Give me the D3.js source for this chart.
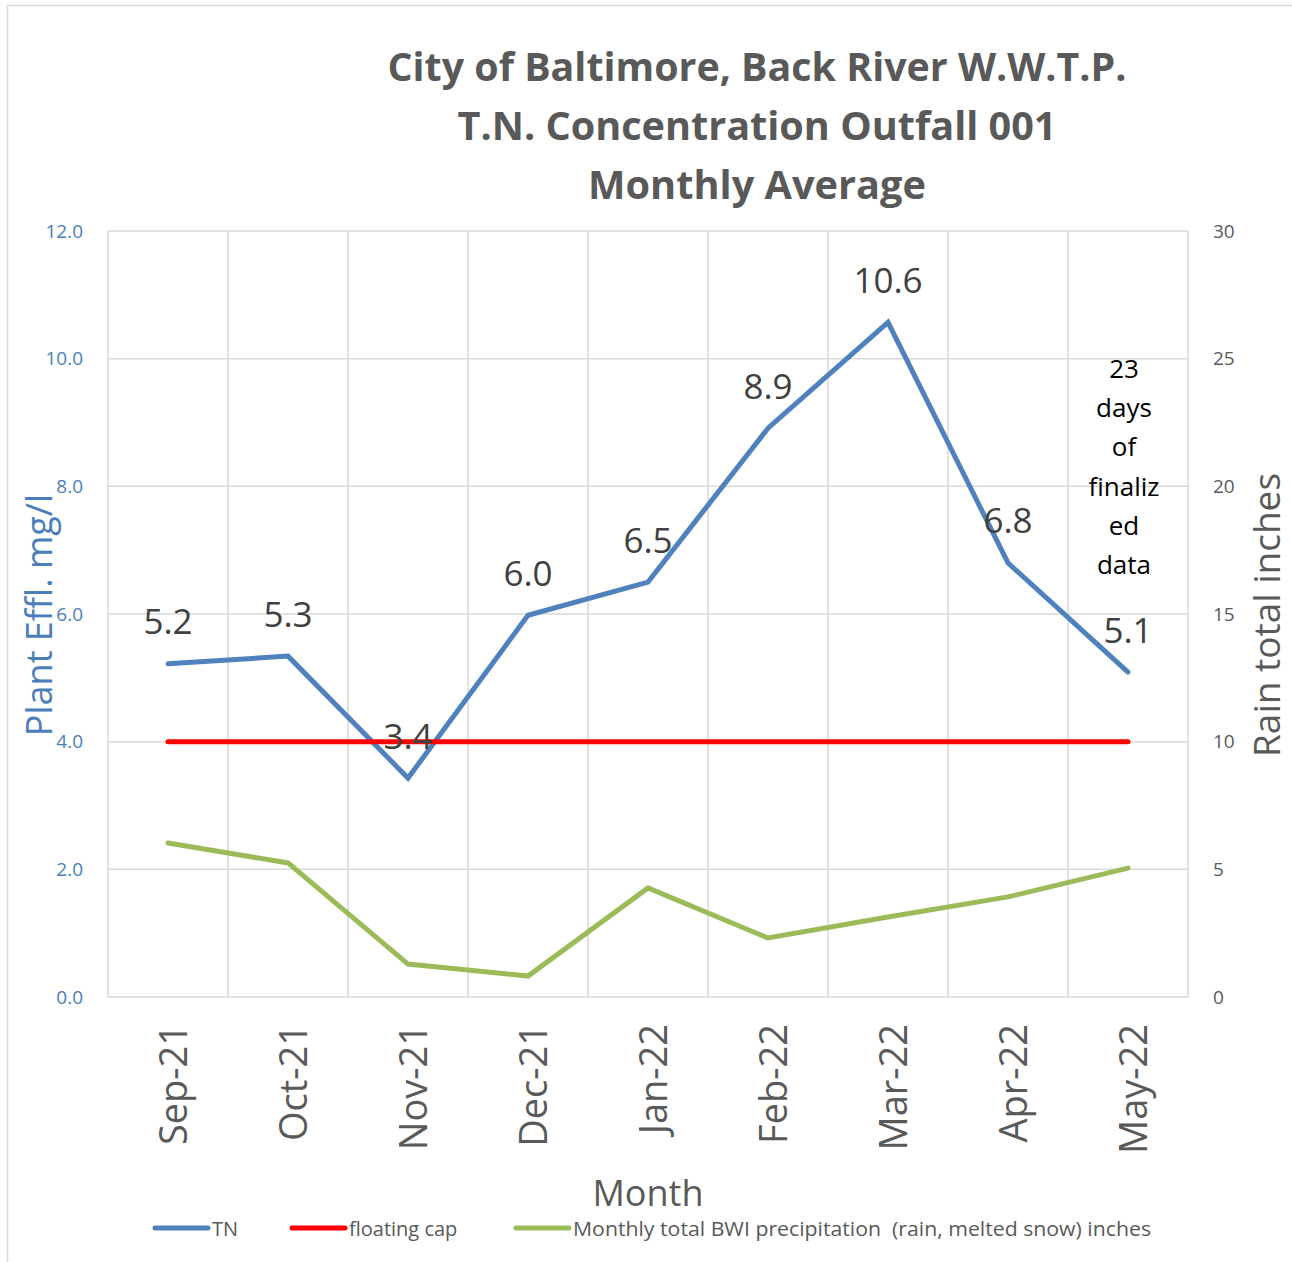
<!DOCTYPE html>
<html>
<head>
<meta charset="utf-8">
<script src="https://cdn.jsdelivr.net/npm/d3@7"></script>
<style>
  body { margin: 0; background: #fff; }
  svg { display: block; font-family: "Open Sans", sans-serif; }
</style>
</head>
<body>
<div id="chart"></div>
<script>
// chart values
const months = ["Sep-21", "Oct-21", "Nov-21", "Dec-21", "Jan-22", "Feb-22", "Mar-22", "Apr-22", "May-22"];
const tn = [5.22, 5.34, 3.43, 5.98, 6.50, 8.91, 10.57, 6.80, 5.09];
const floatingCap = [4, 4, 4, 4, 4, 4, 4, 4, 4];
const precip = [6.03, 5.25, 1.29, 0.82, 4.27, 2.31, 3.13, 3.92, 5.05];
const leftTicks = [0, 2, 4, 6, 8, 10, 12];
const rightTicks = [0, 5, 10, 15, 20, 25, 30];
const titleLines = ["City of Baltimore, Back River W.W.T.P.", "T.N. Concentration Outfall 001", "Monthly Average"];
const noteLines = ["23", "days", "of", "finaliz", "ed", "data"];

const width = 1292,
  height = 1262,
  plot = { left: 108, right: 1188, top: 231, bottom: 997 },
  gridColor = "#d9d9d9",
  textGray = "#595959",
  axisBlue = "#4a7ebb";

const svg = d3
  .select("#chart")
  .append("svg")
  .attr("width", width)
  .attr("height", height);

// outer frame
svg
  .append("rect")
  .attr("x", 7.5)
  .attr("y", 5.5)
  .attr("width", width)
  .attr("height", height)
  .attr("fill", "none")
  .attr("stroke", "#d9d9d9")
  .attr("stroke-width", 1.5);

const x = d3.scaleBand().domain(months).range([plot.left, plot.right]);
const xc = (d) => x(d) + x.bandwidth() / 2;
const yL = d3.scaleLinear().domain([0, 12]).range([plot.bottom, plot.top]);
const yR = d3.scaleLinear().domain([0, 30]).range([plot.bottom, plot.top]);

// gridlines
const grid = svg.append("g").attr("stroke", gridColor).attr("stroke-width", 1.5);
grid
  .selectAll("line.h")
  .data(leftTicks)
  .enter()
  .append("line")
  .attr("x1", plot.left)
  .attr("x2", plot.right)
  .attr("y1", (d) => yL(d))
  .attr("y2", (d) => yL(d));
grid
  .selectAll("line.v")
  .data(months.concat([null]))
  .enter()
  .append("line")
  .attr("x1", (d) => (d ? x(d) : plot.right))
  .attr("x2", (d) => (d ? x(d) : plot.right))
  .attr("y1", plot.top)
  .attr("y2", plot.bottom);

// axes
const leftAxis = svg
  .append("g")
  .attr("transform", `translate(${plot.left - 22},0)`)
  .call(d3.axisLeft(yL).tickValues(leftTicks).tickFormat(d3.format(".1f")).tickSize(0));
leftAxis.select(".domain").remove();
leftAxis
  .selectAll("text")
  .attr("fill", axisBlue)
  .attr("font-size", 19)
  .attr("font-family", "Open Sans");

const rightAxis = svg
  .append("g")
  .attr("transform", `translate(${plot.right + 22},0)`)
  .call(d3.axisRight(yR).tickValues(rightTicks).tickSize(0));
rightAxis.select(".domain").remove();
rightAxis
  .selectAll("text")
  .attr("fill", textGray)
  .attr("font-size", 19)
  .attr("font-family", "Open Sans");

// month labels, rotated
svg
  .append("g")
  .selectAll("text")
  .data(months)
  .enter()
  .append("text")
  .attr("transform", (d) => `translate(${xc(d) + 4},1024)rotate(-90)`)
  .attr("text-anchor", "end")
  .attr("dominant-baseline", "central")
  .attr("font-size", 38)
  .attr("fill", textGray)
  .text((d) => d);

// lines
const line = (yScale) =>
  d3
    .line()
    .x((d, i) => xc(months[i]))
    .y((d) => yScale(d));

svg
  .append("path")
  .datum(precip)
  .attr("d", line(yR))
  .attr("fill", "none")
  .attr("stroke", "#9bbb59")
  .attr("stroke-width", 5)
  .attr("stroke-linecap", "round");

svg
  .append("path")
  .datum(tn)
  .attr("d", line(yL))
  .attr("fill", "none")
  .attr("stroke", "#4f81bd")
  .attr("stroke-width", 5)
  .attr("stroke-linecap", "round");

svg
  .append("path")
  .datum(floatingCap)
  .attr("d", line(yL))
  .attr("fill", "none")
  .attr("stroke", "#ff0000")
  .attr("stroke-width", 5)
  .attr("stroke-linecap", "round");

// TN value labels
svg
  .append("g")
  .selectAll("text")
  .data(tn)
  .enter()
  .append("text")
  .attr("x", (d, i) => xc(months[i]))
  .attr("y", (d) => yL(d) - 43)
  .attr("text-anchor", "middle")
  .attr("dominant-baseline", "central")
  .attr("font-size", 35)
  .attr("fill", "#404040")
  .text((d) => d3.format(".1f")(d));

// note in the last column
svg
  .append("g")
  .selectAll("text")
  .data(noteLines)
  .enter()
  .append("text")
  .attr("x", xc(months[months.length - 1]) - 4)
  .attr("y", (d, i) => 368 + i * 39.2)
  .attr("text-anchor", "middle")
  .attr("dominant-baseline", "central")
  .attr("font-size", 26)
  .attr("fill", "#000")
  .text((d) => d);

// title
svg
  .append("g")
  .selectAll("text")
  .data(titleLines)
  .enter()
  .append("text")
  .attr("x", 757)
  .attr("y", (d, i) => 65 + i * 59)
  .attr("text-anchor", "middle")
  .attr("dominant-baseline", "central")
  .attr("font-size", 40)
  .attr("font-weight", "bold")
  .attr("fill", textGray)
  .attr("textLength", (d, i) => [739, 599, 338][i])
  .attr("lengthAdjust", "spacingAndGlyphs")
  .text((d) => d);

// axis titles
svg
  .append("text")
  .attr("transform", "translate(38,615)rotate(-90)")
  .attr("text-anchor", "middle")
  .attr("dominant-baseline", "central")
  .attr("font-size", 36)
  .attr("fill", axisBlue)
  .text("Plant Effl. mg/l");

svg
  .append("text")
  .attr("transform", "translate(1265,615)rotate(-90)")
  .attr("text-anchor", "middle")
  .attr("dominant-baseline", "central")
  .attr("font-size", 37)
  .attr("fill", textGray)
  .text("Rain total inches");

svg
  .append("text")
  .attr("x", 648)
  .attr("y", 1192)
  .attr("text-anchor", "middle")
  .attr("dominant-baseline", "central")
  .attr("font-size", 36)
  .attr("fill", textGray)
  .text("Month");

// legend
const legendItems = [
  { name: "TN", color: "#4f81bd", x: 155, w: 0 },
  { name: "floating cap", color: "#ff0000", x: 292, w: 0 },
  { name: "Monthly total BWI precipitation  (rain, melted snow) inches", color: "#9bbb59", x: 516, w: 578 },
];
const legend = svg
  .append("g")
  .selectAll("g")
  .data(legendItems)
  .enter()
  .append("g")
  .attr("transform", (d) => `translate(${d.x},1228)`);
legend
  .append("line")
  .attr("x1", 0)
  .attr("x2", 53)
  .attr("stroke", (d) => d.color)
  .attr("stroke-width", 5)
  .attr("stroke-linecap", "round");
legend
  .append("text")
  .attr("x", 57)
  .attr("dominant-baseline", "central")
  .attr("font-size", 20)
  .attr("fill", textGray)
  .attr("xml:space", "preserve")
  .style("white-space", "pre")
  .each(function (d) {
    if (d.w) d3.select(this).attr("textLength", d.w).attr("lengthAdjust", "spacingAndGlyphs");
  })
  .text((d) => d.name);
</script>
</body>
</html>
